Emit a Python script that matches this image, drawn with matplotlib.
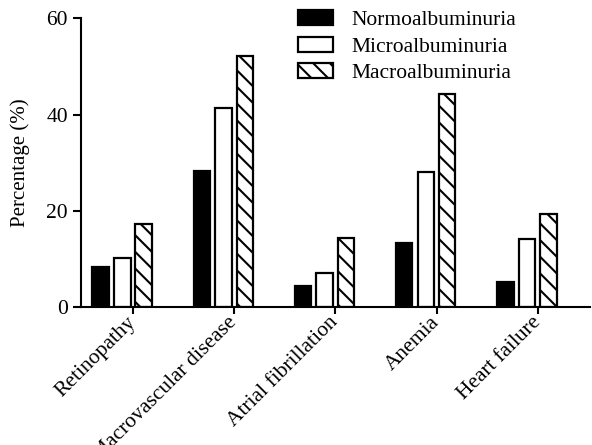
import numpy as np
import matplotlib
matplotlib.use('Agg')
import matplotlib.pyplot as plt

# data
categories = ['Retinopathy', 'Macrovascular disease', 'Atrial fibrillation',
              'Anemia', 'Heart failure']
normo = [8.3, 28.2, 4.4, 13.3, 5.3]
micro = [10.1, 41.3, 7.1, 28.0, 14.2]
macro = [17.2, 52.1, 14.3, 44.2, 19.3]
series_names = ['Normoalbuminuria', 'Microalbuminuria', 'Macroalbuminuria']

plt.rcParams['font.family'] = ['Liberation Serif', 'DejaVu Serif']
plt.rcParams['hatch.linewidth'] = 1.5
plt.rcParams['hatch.color'] = 'black'

fig = plt.figure(figsize=(5.92, 4.45), dpi=100)
ax = fig.add_axes([0.136, 0.31, 0.861, 0.649])

x = np.arange(len(categories))
w = 0.165
lw = 1.6
ax.bar(x - 0.32, normo, w, color='black', edgecolor='black', linewidth=lw,
       label=series_names[0])
ax.bar(x - 0.105, micro, w, color='white', edgecolor='black', linewidth=lw,
       label=series_names[1])
ax.bar(x + 0.105, macro, w, color='white', edgecolor='black', linewidth=lw,
       hatch='\\\\', label=series_names[2])

ax.set_xlim(-0.52, 4.52)
ax.set_ylim(0, 60)
ax.set_yticks([0, 20, 40, 60])
ax.set_xticks(x)
ax.set_xticklabels(categories, rotation=45, ha='right', va='center',
                   rotation_mode='anchor')

for s in ['top', 'right']:
    ax.spines[s].set_visible(False)
for s in ['left', 'bottom']:
    ax.spines[s].set_linewidth(1.5)
ax.tick_params(axis='both', width=1.5, labelsize=15.5)
ax.tick_params(axis='y', length=6, pad=3)
ax.tick_params(axis='x', length=5, pad=4)
ax.set_ylabel('Percentage (%)', fontsize=15)
ax.yaxis.set_label_coords(-0.1, 0.5)

leg = fig.legend(loc='upper left', bbox_to_anchor=(0.503, 0.977), frameon=False,
                 fontsize=15.5, handlelength=1.63, handleheight=0.7,
                 labelspacing=0.3, handletextpad=0.84, borderaxespad=0,
                 borderpad=0)

fig.savefig('out.png', dpi=100)
